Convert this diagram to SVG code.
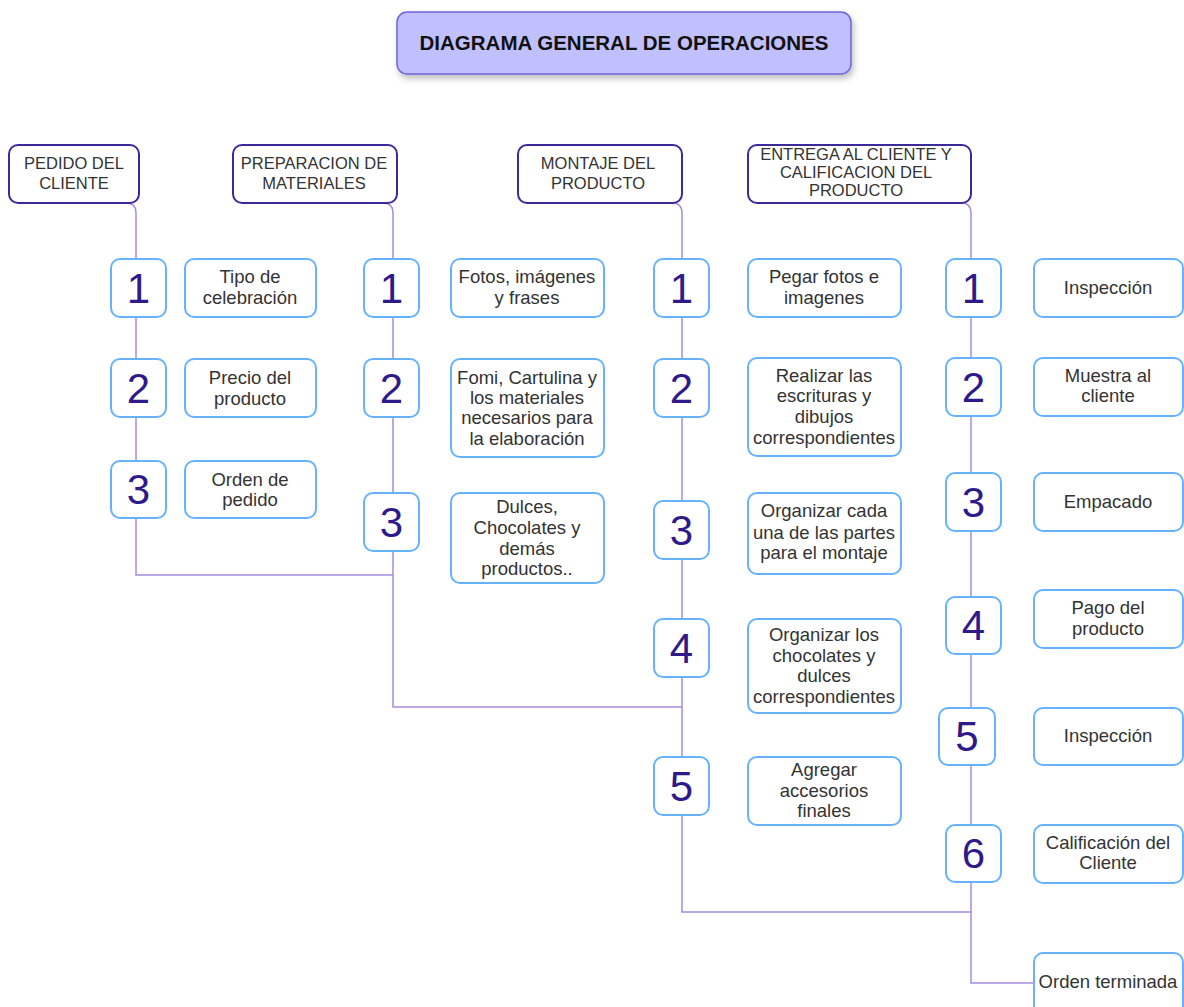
<svg xmlns="http://www.w3.org/2000/svg" width="1184" height="1007" viewBox="0 0 1184 1007">
<defs>
<filter id="sh" x="-10%" y="-30%" width="120%" height="170%">
<feDropShadow dx="2" dy="4" stdDeviation="3" flood-color="#000" flood-opacity="0.25"/>
</filter>
<style>
.title{fill:#c0c0ff;stroke:#6c63e0;stroke-width:1.5}
.tt{font-family:"Liberation Sans",Arial,sans-serif;font-size:20.5px;font-weight:bold;fill:#111;text-anchor:middle}
.hdr{fill:#fff;stroke:#3b2a9c;stroke-width:2}
.ht{font-family:"Liberation Sans",Arial,sans-serif;font-size:16.5px;fill:#333;text-anchor:middle}
.nb{fill:#fff;stroke:#66b2ff;stroke-width:2}
.nt{font-family:"Liberation Sans",Arial,sans-serif;font-size:42px;fill:#2e1a8a;text-anchor:middle}
.tb{fill:#fff;stroke:#66b2ff;stroke-width:2}
.tx{font-family:"Liberation Sans",Arial,sans-serif;font-size:18.5px;fill:#333;text-anchor:middle}
.ln{fill:none;stroke:#a78bdf;stroke-width:1.5}
</style>
</defs>
<rect width="1184" height="1007" fill="#fff"/>

<g id="connectors">
<path class="ln" d="M75 203 H126 Q136 203 136 213 V575 H393"/>
<path class="ln" d="M340 203 H383 Q393 203 393 213 V707 H682"/>
<path class="ln" d="M620 203 H672 Q682 203 682 213 V912 H971"/>
<path class="ln" d="M900 203 H961 Q971 203 971 213 V983 H1034"/>
</g>

<g id="title">
<rect class="title" x="397" y="12" width="454" height="62" rx="10" filter="url(#sh)"/>
<text class="tt" x="624" y="50">DIAGRAMA GENERAL DE OPERACIONES</text>
</g>

<g id="h1"><rect class="hdr" x="9" y="145" width="130" height="58" rx="9"/>
<text class="ht"><tspan x="74" y="169">PEDIDO DEL</tspan><tspan x="74" y="189">CLIENTE</tspan></text></g>
<g id="h2"><rect class="hdr" x="233" y="145" width="164" height="58" rx="9"/>
<text class="ht"><tspan x="314" y="169">PREPARACION DE</tspan><tspan x="314" y="189">MATERIALES</tspan></text></g>
<g id="h3"><rect class="hdr" x="518" y="145" width="164" height="58" rx="9"/>
<text class="ht"><tspan x="598" y="169">MONTAJE DEL</tspan><tspan x="598" y="189">PRODUCTO</tspan></text></g>
<g id="h4"><rect class="hdr" x="748" y="145" width="223" height="58" rx="9"/>
<text class="ht"><tspan x="856" y="160">ENTREGA AL CLIENTE Y</tspan><tspan x="856" y="178">CALIFICACION DEL</tspan><tspan x="856" y="196">PRODUCTO</tspan></text></g>

<!-- Column 1 -->
<g id="c1n1"><rect class="nb" x="111" y="259" width="55" height="58" rx="9"/><text class="nt" x="138.5" y="303">1</text></g>
<g id="c1n2"><rect class="nb" x="111" y="359" width="55" height="58" rx="9"/><text class="nt" x="138.5" y="403">2</text></g>
<g id="c1n3"><rect class="nb" x="111" y="461" width="55" height="57" rx="9"/><text class="nt" x="138.5" y="504">3</text></g>
<g id="c1t1"><rect class="tb" x="185" y="259" width="131" height="58" rx="9"/>
<text class="tx"><tspan x="250" y="283">Tipo de</tspan><tspan x="250" y="304">celebración</tspan></text></g>
<g id="c1t2"><rect class="tb" x="185" y="359" width="131" height="58" rx="9"/>
<text class="tx"><tspan x="250" y="384">Precio del</tspan><tspan x="250" y="405">producto</tspan></text></g>
<g id="c1t3"><rect class="tb" x="185" y="461" width="131" height="57" rx="9"/>
<text class="tx"><tspan x="250" y="486">Orden de</tspan><tspan x="250" y="506">pedido</tspan></text></g>

<!-- Column 2 -->
<g id="c2n1"><rect class="nb" x="364" y="259" width="55" height="58" rx="9"/><text class="nt" x="391.5" y="303">1</text></g>
<g id="c2n2"><rect class="nb" x="364" y="359" width="55" height="58" rx="9"/><text class="nt" x="391.5" y="403">2</text></g>
<g id="c2n3"><rect class="nb" x="364" y="493" width="55" height="58" rx="9"/><text class="nt" x="391.5" y="537">3</text></g>
<g id="c2t1"><rect class="tb" x="451" y="259" width="153" height="58" rx="9"/>
<text class="tx"><tspan x="527" y="283">Fotos, imágenes</tspan><tspan x="527" y="304">y frases</tspan></text></g>
<g id="c2t2"><rect class="tb" x="451" y="359" width="153" height="98" rx="9"/>
<text class="tx"><tspan x="527" y="384">Fomi, Cartulina y</tspan><tspan x="527" y="404">los materiales</tspan><tspan x="527" y="424">necesarios para</tspan><tspan x="527" y="445">la elaboración</tspan></text></g>
<g id="c2t3"><rect class="tb" x="451" y="493" width="153" height="90" rx="9"/>
<text class="tx"><tspan x="527" y="513">Dulces,</tspan><tspan x="527" y="534">Chocolates y</tspan><tspan x="527" y="555">demás</tspan><tspan x="527" y="575">productos..</tspan></text></g>

<!-- Column 3 -->
<g id="c3n1"><rect class="nb" x="654" y="259" width="55" height="58" rx="9"/><text class="nt" x="681.5" y="303">1</text></g>
<g id="c3n2"><rect class="nb" x="654" y="359" width="55" height="58" rx="9"/><text class="nt" x="681.5" y="403">2</text></g>
<g id="c3n3"><rect class="nb" x="654" y="501" width="55" height="58" rx="9"/><text class="nt" x="681.5" y="545">3</text></g>
<g id="c3n4"><rect class="nb" x="654" y="619" width="55" height="58" rx="9"/><text class="nt" x="681.5" y="663">4</text></g>
<g id="c3n5"><rect class="nb" x="654" y="757" width="55" height="58" rx="9"/><text class="nt" x="681.5" y="801">5</text></g>
<g id="c3t1"><rect class="tb" x="748" y="259" width="153" height="58" rx="9"/>
<text class="tx"><tspan x="824" y="283">Pegar fotos e</tspan><tspan x="824" y="304">imagenes</tspan></text></g>
<g id="c3t2"><rect class="tb" x="748" y="358" width="153" height="98" rx="9"/>
<text class="tx"><tspan x="824" y="382">Realizar las</tspan><tspan x="824" y="402">escrituras y</tspan><tspan x="824" y="423">dibujos</tspan><tspan x="824" y="444">correspondientes</tspan></text></g>
<g id="c3t3"><rect class="tb" x="748" y="493" width="153" height="81" rx="9"/>
<text class="tx"><tspan x="824" y="517">Organizar cada</tspan><tspan x="824" y="539">una de las partes</tspan><tspan x="824" y="559">para el montaje</tspan></text></g>
<g id="c3t4"><rect class="tb" x="748" y="619" width="153" height="94" rx="9"/>
<text class="tx"><tspan x="824" y="641">Organizar los</tspan><tspan x="824" y="662">chocolates y</tspan><tspan x="824" y="682">dulces</tspan><tspan x="824" y="703">correspondientes</tspan></text></g>
<g id="c3t5"><rect class="tb" x="748" y="757" width="153" height="68" rx="9"/>
<text class="tx"><tspan x="824" y="776">Agregar</tspan><tspan x="824" y="797">accesorios</tspan><tspan x="824" y="817">finales</tspan></text></g>

<!-- Column 4 -->
<g id="c4n1"><rect class="nb" x="946" y="259" width="55" height="58" rx="9"/><text class="nt" x="973.5" y="303">1</text></g>
<g id="c4n2"><rect class="nb" x="946" y="358" width="55" height="58" rx="9"/><text class="nt" x="973.5" y="402">2</text></g>
<g id="c4n3"><rect class="nb" x="946" y="473" width="55" height="58" rx="9"/><text class="nt" x="973.5" y="517">3</text></g>
<g id="c4n4"><rect class="nb" x="946" y="597" width="55" height="57" rx="9"/><text class="nt" x="973.5" y="640">4</text></g>
<g id="c4n5"><rect class="nb" x="939" y="708" width="56" height="57" rx="9"/><text class="nt" x="967" y="751">5</text></g>
<g id="c4n6"><rect class="nb" x="946" y="825" width="55" height="57" rx="9"/><text class="nt" x="973.5" y="868">6</text></g>
<g id="c4t1"><rect class="tb" x="1034" y="259" width="149" height="58" rx="9"/>
<text class="tx"><tspan x="1108" y="294">Inspección</tspan></text></g>
<g id="c4t2"><rect class="tb" x="1034" y="358" width="149" height="58" rx="9"/>
<text class="tx"><tspan x="1108" y="382">Muestra al</tspan><tspan x="1108" y="402">cliente</tspan></text></g>
<g id="c4t3"><rect class="tb" x="1034" y="473" width="149" height="58" rx="9"/>
<text class="tx"><tspan x="1108" y="508">Empacado</tspan></text></g>
<g id="c4t4"><rect class="tb" x="1034" y="590" width="149" height="58" rx="9"/>
<text class="tx"><tspan x="1108" y="614">Pago del</tspan><tspan x="1108" y="635">producto</tspan></text></g>
<g id="c4t5"><rect class="tb" x="1034" y="708" width="149" height="57" rx="9"/>
<text class="tx"><tspan x="1108" y="742">Inspección</tspan></text></g>
<g id="c4t6"><rect class="tb" x="1034" y="825" width="149" height="58" rx="9"/>
<text class="tx"><tspan x="1108" y="849">Calificación del</tspan><tspan x="1108" y="869">Cliente</tspan></text></g>
<g id="c4t7"><rect class="tb" x="1034" y="953" width="149" height="62" rx="9"/>
<text class="tx"><tspan x="1108" y="988">Orden terminada</tspan></text></g>
</svg>
